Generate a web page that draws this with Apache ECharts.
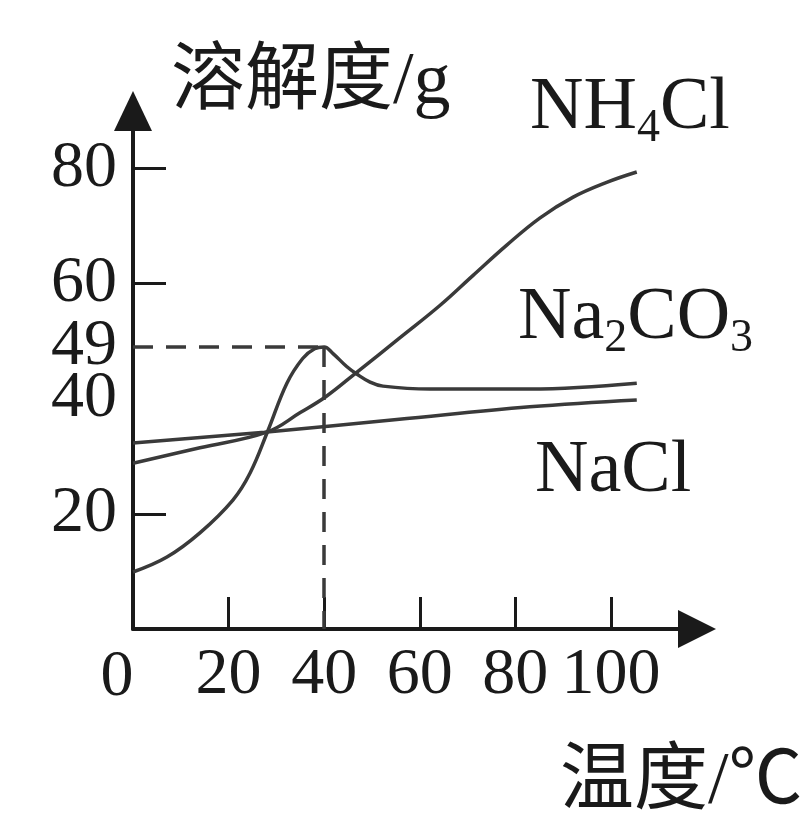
<!DOCTYPE html>
<html>
<head>
<meta charset="utf-8">
<script src="https://cdn.jsdelivr.net/npm/echarts@6/dist/echarts.min.js"></script>
<style>
html, body { margin: 0; padding: 0; background: #fff; }
#chart { width: 811px; height: 814px; }
</style>
</head>
<body>
<div id="chart"></div>
<script>
// temperature (°C) / solubility (g)
const nh4clT = [0, 14, 28, 35, 40.4, 46.8, 56, 64.2, 71.1, 78.2, 85.1, 92, 99.1, 105.4];
const nh4clS = [28.8, 31.5, 34.2, 37.6, 40.4, 44.6, 50.7, 56.2, 61.4, 66.7, 71.4, 75.0, 77.6, 79.4];

const na2co3T = [0, 7.1, 14, 20.9, 24.5, 28.2, 32.2, 35.5, 38, 40, 41.8, 44.7, 46.8, 49.6, 52.3, 62.1, 83, 105.4];
const na2co3S = [9.9, 12.5, 16.7, 22.4, 27.1, 34.4, 42.7, 47.0, 48.7, 49, 47.9, 45.6, 44.3, 42.9, 42.2, 41.7, 41.7, 42.7];

const naclT = [0, 27.5, 55.2, 83, 105.4];
const naclS = [32.3, 34.2, 36.4, 38.6, 39.8];

const xTicks = [20, 40, 60, 80, 100];
const yLabels = [20, 40, 49, 60, 80];
const yTicks = [20, 60, 80];

const serif = "'Liberation Serif', 'Times New Roman', serif";
const cjk = "'Liberation Serif', 'Noto Sans CJK SC', serif";
const ink = '#1a1a1a';
const curve = '#3a3a3a';

const pairs = (xs, ys) => xs.map((x, i) => [x, ys[i]]);

// peak of the Na2CO3 curve, used for the dashed guide lines
const peakIdx = na2co3S.indexOf(Math.max(...na2co3S));
const peakT = na2co3T[peakIdx];
const peakS = na2co3S[peakIdx];

const chart = echarts.init(document.getElementById('chart'), null, { renderer: 'canvas' });

const lineSeries = (name, data, extra) => Object.assign({
    name: name,
    type: 'line',
    data: data,
    smooth: 0.4,
    showSymbol: false,
    silent: true,
    lineStyle: { color: curve, width: 3.5 },
    z: 3
}, extra || {});

chart.setOption({
    animation: false,
    backgroundColor: '#fff',
    grid: { left: 133, top: 111, width: 564, height: 518 },
    xAxis: {
        type: 'value',
        min: 0,
        max: 118,
        axisLine: {
            show: true,
            symbol: ['none', 'triangle'],
            symbolSize: [38, 38],
            lineStyle: { color: ink, width: 4 }
        },
        axisTick: {
            show: true,
            inside: true,
            length: 32,
            customValues: xTicks,
            lineStyle: { color: ink, width: 3 }
        },
        axisLabel: {
            customValues: xTicks,
            margin: 14,
            fontFamily: serif,
            fontSize: 66,
            color: ink
        },
        splitLine: { show: false }
    },
    yAxis: {
        type: 'value',
        min: 0,
        max: 90,
        axisLine: {
            show: true,
            symbol: ['none', 'triangle'],
            symbolSize: [38, 40],
            lineStyle: { color: ink, width: 4 }
        },
        axisTick: {
            show: true,
            inside: true,
            length: 33,
            customValues: yTicks,
            lineStyle: { color: ink, width: 3 }
        },
        axisLabel: {
            customValues: yLabels,
            margin: 16,
            fontFamily: serif,
            fontSize: 66,
            color: ink
        },
        splitLine: { show: false }
    },
    graphic: [
        { type: 'text', x: 117, y: 678, style: { text: '0', font: '66px ' + serif, fill: ink, align: 'center', verticalAlign: 'middle' } },
        { type: 'text', x: 171, y: 84, style: { text: '溶解度/g', font: '74px ' + cjk, fill: ink, align: 'left', verticalAlign: 'middle' } },
        { type: 'text', x: 560, y: 784, style: { text: '温度/℃', font: '74px ' + cjk, fill: ink, align: 'left', verticalAlign: 'middle' } },
        {
            type: 'text', x: 530, y: 112,
            style: {
                text: '{n|NH}{s|4}{n|Cl}', fill: ink, align: 'left', verticalAlign: 'middle',
                rich: {
                    n: { fontFamily: serif, fontSize: 74, lineHeight: 80, verticalAlign: 'top' },
                    s: { fontFamily: serif, fontSize: 46, lineHeight: 58, verticalAlign: 'bottom' }
                }
            }
        },
        {
            type: 'text', x: 518, y: 322,
            style: {
                text: '{n|Na}{s|2}{n|CO}{s|3}', fill: ink, align: 'left', verticalAlign: 'middle',
                rich: {
                    n: { fontFamily: serif, fontSize: 74, lineHeight: 80, verticalAlign: 'top' },
                    s: { fontFamily: serif, fontSize: 46, lineHeight: 58, verticalAlign: 'bottom' }
                }
            }
        },
        { type: 'text', x: 535, y: 472, style: { text: 'NaCl', font: '74px ' + serif, fill: ink, align: 'left', verticalAlign: 'middle' } }
    ],
    series: [
        lineSeries('NH4Cl', pairs(nh4clT, nh4clS)),
        lineSeries('Na2CO3', pairs(na2co3T, na2co3S), {
            markLine: {
                silent: true,
                symbol: ['none', 'none'],
                label: { show: false },
                lineStyle: { color: curve, width: 3.5, type: [20, 13] },
                data: [
                    [{ coord: [0, peakS] }, { coord: [peakT, peakS] }],
                    [{ coord: [peakT, peakS] }, { coord: [peakT, 0] }]
                ]
            }
        }),
        lineSeries('NaCl', pairs(naclT, naclS))
    ]
});
</script>
</body>
</html>
